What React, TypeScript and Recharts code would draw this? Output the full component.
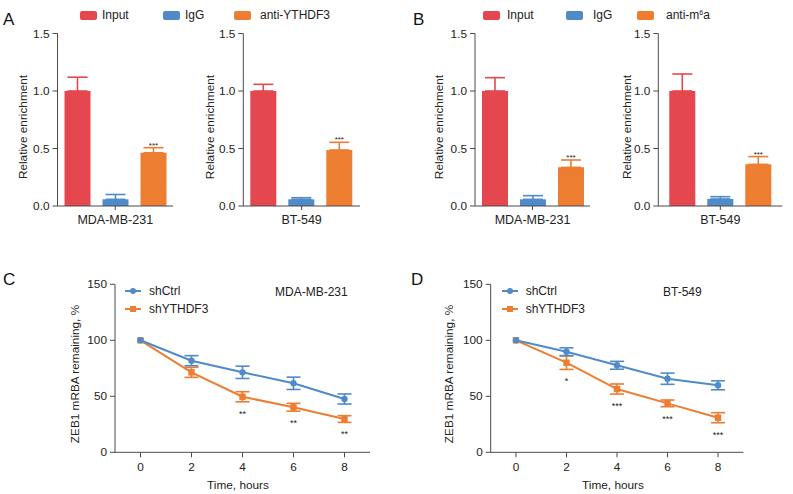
import React from 'react';
import { BarChart, Bar, XAxis, YAxis, ErrorBar, LabelList, Legend, LineChart, Line } from 'recharts';

const FONT = '"Liberation Sans", Arial, Helvetica, sans-serif';
const RED = '#e5474f';
const BLUE = '#4f8bc9';
const ORANGE = '#ed7d31';
const AXIS = '#4a4a4a';
const TEXT = '#222222';

// A / B: RIP-qPCR relative enrichment
const cellLines = ['MDA-MB-231', 'BT-549'];
const inputA = [1.0, 1.0];
const inputAErr = [0.12, 0.058];
const iggA = [0.058, 0.058];
const iggAErr = [0.042, 0.014];
const ythdf3A = [0.463, 0.487];
const ythdf3AErr = [0.044, 0.067];

const inputB = [1.0, 1.0];
const inputBErr = [0.116, 0.148];
const iggB = [0.058, 0.061];
const iggBErr = [0.032, 0.02];
const m6aB = [0.336, 0.362];
const m6aBErr = [0.064, 0.068];

const barStars = ['***', '***'];
const enrichTicks = [0, 0.5, 1.0, 1.5];
const legendA = ['Input', 'IgG', 'anti-YTHDF3'];
const legendB = ['Input', 'IgG', 'anti-m6a'];

// C / D: mRNA decay
const hours = [0, 2, 4, 6, 8];
const ctrlC = [100, 81.8, 71.4, 61.6, 47.6];
const ctrlCErr = [0, 4.5, 5.5, 5.5, 4.5];
const shC = [100, 71.4, 49.6, 40.2, 29.7];
const shCErr = [0, 4.5, 4.5, 3.5, 3];
const starsC = ['', '', '**', '**', '**'];

const ctrlD = [100, 89.8, 77.7, 65.7, 59.8];
const ctrlDErr = [0, 3.5, 3.5, 5, 4];
const shD = [100, 80, 56.5, 43.7, 30.9];
const shDErr = [0, 6, 4.5, 3, 4.5];
const starsD = ['', '*', '***', '***', '***'];

const remainTicks = [0, 50, 100, 150];
const hourTicks = [0, 2, 4, 6, 8];
const lineLegend = ['shCtrl', 'shYTHDF3'];

const tickStyle = { fontSize: 11.8, fill: TEXT, fontFamily: FONT };
const barXTickStyle = { fontSize: 12.5, fill: TEXT, fontFamily: FONT };

const makeBarRow = (i: number, inp: number[], inpE: number[], igg: number[], iggE: number[], ab: number[], abE: number[]) => ({
  name: cellLines[i],
  input: inp[i],
  inputErr: [0, inpE[i]],
  igg: igg[i],
  iggErr: [0, iggE[i]],
  ab: ab[i],
  abErr: [0, abE[i]],
  abE: abE[i],
  stars: barStars[i],
});

const makeLineRows = (ctrl: number[], ctrlE: number[], sh: number[], shE: number[], stars: string[]) =>
  hours.map((t, i) => ({
    t,
    ctrl: ctrl[i],
    ctrlErr: ctrlE[i],
    sh: sh[i],
    shErr: shE[i],
    starY: sh[i] - shE[i],
    stars: stars[i],
  }));

const axisTitle = (text: string, x: number, y: number, rotate: boolean) => () => (
  <text
    x={x}
    y={y}
    transform={rotate ? `rotate(-90 ${x} ${y})` : undefined}
    textAnchor="middle"
    dominantBaseline="central"
    fontSize={11.8}
    fill={TEXT}
    fontFamily={FONT}
  >
    {text}
  </text>
);

const LegendLabel = ({ text }: { text: string }) =>
  text === 'anti-m6a' ? (
    <span>
      anti-m<sup style={{ fontSize: 7, verticalAlign: 'top', position: 'relative', top: -2 }}>6</sup>a
    </span>
  ) : (
    <span>{text}</span>
  );

type BarLegendSpec = { labels: string[]; swatches: number[]; texts: number[]; top: number };

const BarPanel = ({ left, top, width, margin, row, legend, yTitleX }: any) => {
  const height = 240;
  const spec: BarLegendSpec | undefined = legend;
  return (
    <div style={{ position: 'absolute', left, top }}>
      <BarChart width={width} height={height} data={[row]} margin={margin} barSize={26} barGap={12}>
        <XAxis
          dataKey="name"
          height={20}
          stroke={AXIS}
          tick={barXTickStyle}
          tickSize={4}
          tickMargin={5}
        />
        <YAxis
          width={40}
          type="number"
          domain={[0, 1.5]}
          ticks={enrichTicks}
          tickFormatter={(v: number) => v.toFixed(1)}
          stroke={AXIS}
          tick={tickStyle}
          tickSize={5}
          tickMargin={3}
          label={axisTitle('Relative enrichment', yTitleX, 127, true)}
        />
        {spec && (
          <Legend
            layout="horizontal"
            verticalAlign="middle"
            align="center"
            wrapperStyle={{ left: 0, top: 0, width: 400, height: 30 }}
            content={() => (
              <div style={{ position: 'relative', width: 400, height: 30, fontFamily: FONT, fontSize: 12, color: TEXT }}>
                {spec.labels.map((l, i) => (
                  <React.Fragment key={l}>
                    <div
                      style={{
                        position: 'absolute',
                        left: spec.swatches[i],
                        top: spec.top - 4.5,
                        width: 17,
                        height: 9,
                        borderRadius: 2,
                        background: [RED, BLUE, ORANGE][i],
                      }}
                    />
                    <div style={{ position: 'absolute', left: spec.texts[i], top: spec.top - 7, lineHeight: '14px', whiteSpace: 'nowrap' }}>
                      <LegendLabel text={l} />
                    </div>
                  </React.Fragment>
                ))}
              </div>
            )}
          />
        )}
        <Bar dataKey="input" fill={RED} isAnimationActive={false}>
          <ErrorBar dataKey="inputErr" width={10} stroke={RED} strokeWidth={1.6} direction="y" />
        </Bar>
        <Bar dataKey="igg" fill={BLUE} isAnimationActive={false}>
          <ErrorBar dataKey="iggErr" width={10} stroke={BLUE} strokeWidth={1.6} direction="y" />
        </Bar>
        <Bar dataKey="ab" fill={ORANGE} isAnimationActive={false}>
          <ErrorBar dataKey="abErr" width={10} stroke={ORANGE} strokeWidth={1.6} direction="y" />
          <LabelList
            dataKey="stars"
            content={(p: any) => {
              const errPx = (row.abE / row.ab) * Number(p.height);
              return (
                <text
                  x={Number(p.x) + Number(p.width) / 2}
                  y={Number(p.y) - errPx}
                  textAnchor="middle"
                  fontSize={8}
                  fill={TEXT}
                  fontFamily={FONT}
                >
                  {p.value}
                </text>
              );
            }}
          />
        </Bar>
      </BarChart>
    </div>
  );
};

const squareDot = (p: any) => (
  <rect key={`sq-${p.index}`} x={p.cx - 3.2} y={p.cy - 3.2} width={6.4} height={6.4} fill={ORANGE} />
);
const circleDot = (p: any) => <circle key={`ci-${p.index}`} cx={p.cx} cy={p.cy} r={3.2} fill={BLUE} />;

const LinePanel = ({ left, top, width, margin, rows, title, legendX, titleX, yTitleX, xTitleX }: any) => {
  const height = 244;
  return (
    <div style={{ position: 'absolute', left, top }}>
      <LineChart width={width} height={height} data={rows} margin={margin}>
        <XAxis
          dataKey="t"
          type="number"
          domain={[-1, 9]}
          ticks={hourTicks}
          height={30}
          stroke={AXIS}
          tick={tickStyle}
          tickSize={5}
          tickMargin={5}
          label={axisTitle('Time, hours', xTitleX, 235, false)}
        />
        <YAxis
          width={40}
          type="number"
          domain={[0, 150]}
          ticks={remainTicks}
          stroke={AXIS}
          tick={tickStyle}
          tickSize={5}
          tickMargin={3}
          label={axisTitle('ZEB1 mRBA remaining, %', yTitleX, 124, true)}
        />
        <Legend
          layout="horizontal"
          verticalAlign="middle"
          align="center"
          wrapperStyle={{ left: 0, top: 0, width, height: 80 }}
          content={() => (
            <div style={{ position: 'relative', width, height: 80, fontFamily: FONT, fontSize: 12, color: TEXT }}>
              {lineLegend.map((l, i) => (
                <React.Fragment key={l}>
                  <svg
                    width={16}
                    height={8}
                    style={{ position: 'absolute', left: legendX, top: 40.7 + i * 18.6 - 4 }}
                  >
                    <line x1={0} y1={4} x2={16} y2={4} stroke={i === 0 ? BLUE : ORANGE} strokeWidth={2} />
                    {i === 0 ? (
                      <circle cx={8} cy={4} r={3} fill={BLUE} />
                    ) : (
                      <rect x={5} y={1} width={6} height={6} fill={ORANGE} />
                    )}
                  </svg>
                  <div style={{ position: 'absolute', left: legendX + 24, top: 40.7 + i * 18.6 - 7, lineHeight: '14px', whiteSpace: 'nowrap' }}>
                    {l}
                  </div>
                </React.Fragment>
              ))}
              <div style={{ position: 'absolute', left: titleX, top: 41.7 - 7, lineHeight: '14px', whiteSpace: 'nowrap' }}>
                {title}
              </div>
            </div>
          )}
        />
        <Line dataKey="sh" stroke={ORANGE} strokeWidth={2} dot={squareDot} activeDot={false} isAnimationActive={false}>
          <ErrorBar dataKey="shErr" width={7} stroke={ORANGE} strokeWidth={1.6} direction="y" />
        </Line>
        <Line dataKey="ctrl" stroke={BLUE} strokeWidth={2} dot={circleDot} activeDot={false} isAnimationActive={false}>
          <ErrorBar dataKey="ctrlErr" width={7} stroke={BLUE} strokeWidth={1.6} direction="y" />
        </Line>
        <Line
          dataKey="starY"
          stroke="none"
          dot={false}
          activeDot={false}
          legendType="none"
          isAnimationActive={false}
        >
          <LabelList
            dataKey="stars"
            content={(p: any) => (
              <text x={p.x} y={Number(p.y) + 15} textAnchor="middle" fontSize={9} fill={TEXT} fontFamily={FONT}>
                {p.value}
              </text>
            )}
          />
        </Line>
      </LineChart>
    </div>
  );
};

const PanelLetter = ({ letter, left, top }: { letter: string; left: number; top: number }) => (
  <div style={{ position: 'absolute', left, top, fontSize: 17, lineHeight: '17px', fontFamily: FONT, color: '#111' }}>
    {letter}
  </div>
);

export default function App() {
  const rowA1 = makeBarRow(0, inputA, inputAErr, iggA, iggAErr, ythdf3A, ythdf3AErr);
  const rowA2 = makeBarRow(1, inputA, inputAErr, iggA, iggAErr, ythdf3A, ythdf3AErr);
  const rowB1 = makeBarRow(0, inputB, inputBErr, iggB, iggBErr, m6aB, m6aBErr);
  const rowB2 = makeBarRow(1, inputB, inputBErr, iggB, iggBErr, m6aB, m6aBErr);
  const rowsC = makeLineRows(ctrlC, ctrlCErr, shC, shCErr, starsC);
  const rowsD = makeLineRows(ctrlD, ctrlDErr, shD, shDErr, starsD);

  return (
    <div style={{ position: 'absolute', left: 0, top: 0, width: 793, height: 494, background: '#fff', fontFamily: FONT, overflow: 'hidden' }}>
      <PanelLetter letter="A" left={3} top={11} />
      <PanelLetter letter="B" left={413} top={11} />
      <PanelLetter letter="C" left={3} top={271} />
      <PanelLetter letter="D" left={411} top={271} />

      <BarPanel
        left={0}
        top={0}
        width={200}
        margin={{ top: 33.5, right: 27, bottom: 14, left: 17.5 }}
        row={rowA1}
        yTitleX={22.7}
        legend={{ labels: legendA, swatches: [80, 163, 234], texts: [102, 185, 260], top: 15 }}
      />
      <BarPanel
        left={195}
        top={0}
        width={200}
        margin={{ top: 33.5, right: 35, bottom: 14, left: 8.3 }}
        row={rowA2}
        yTitleX={15}
      />
      <BarPanel
        left={400}
        top={0}
        width={195}
        margin={{ top: 33.5, right: 5, bottom: 14, left: 35 }}
        row={rowB1}
        yTitleX={39}
        legend={{ labels: legendB, swatches: [83, 166, 237], texts: [107, 193, 266], top: 15 }}
      />
      <BarPanel
        left={595}
        top={0}
        width={198}
        margin={{ top: 33.5, right: 10.7, bottom: 14, left: 23.3 }}
        row={rowB2}
        yTitleX={31.7}
      />

      <LinePanel
        left={0}
        top={250}
        width={400}
        margin={{ top: 34.3, right: 30, bottom: 11.7, left: 75 }}
        rows={rowsC}
        title="MDA-MB-231"
        legendX={125}
        titleX={275}
        yTitleX={75}
        xTitleX={238}
      />
      <LinePanel
        left={400}
        top={250}
        width={393}
        margin={{ top: 34.3, right: 49.7, bottom: 11.7, left: 50.7 }}
        rows={rowsD}
        title="BT-549"
        legendX={101.7}
        titleX={263}
        yTitleX={49.3}
        xTitleX={213}
      />
    </div>
  );
}
